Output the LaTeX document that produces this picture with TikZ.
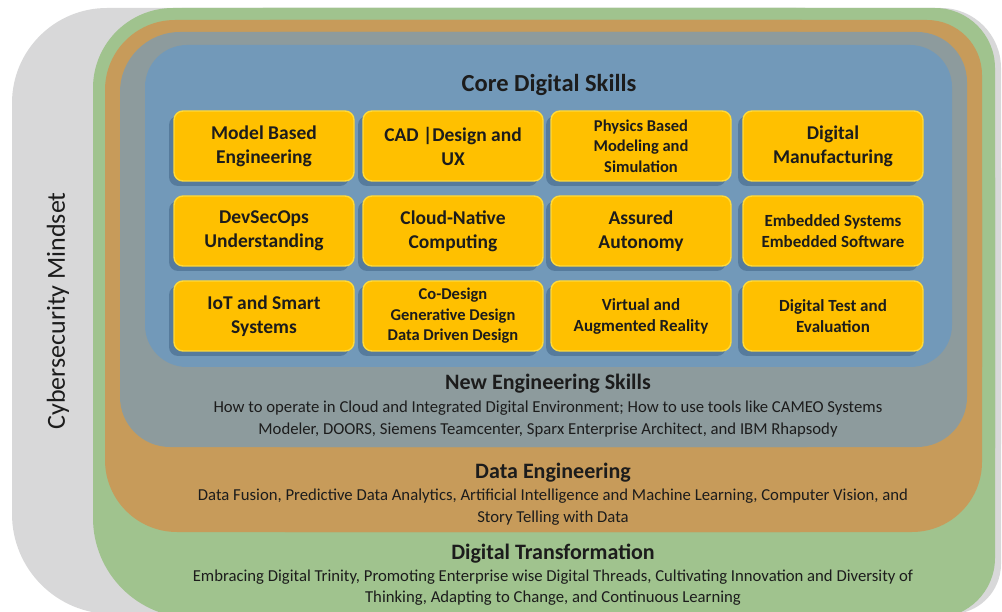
\documentclass[tikz,border=0pt]{standalone}
\usepackage{fontspec}
\setmainfont{Carlito}
\usetikzlibrary{shadows}

\definecolor{cybergray}{HTML}{D8D8D9}
\definecolor{dtgreen}{HTML}{A0C38E}
\definecolor{detan}{HTML}{C79B5A}
\definecolor{nesgray}{HTML}{8D9B9D}
\definecolor{coreblue}{HTML}{7299B9}
\definecolor{skillfill}{HTML}{FFC000}
\definecolor{skillrim}{HTML}{FFDA3A}
\definecolor{skillshade}{HTML}{3B5E80}
\definecolor{inktext}{HTML}{1C1C1C}

% one rounded band, every corner with its own radius:
% colour, left, top, right, bottom, radius TL, TR, BR, BL
\newcommand{\band}[9]{%
  \fill[#1, rounded corners=#6] (#2,#3) rectangle (#4-110,#5-110);
  \fill[#1, rounded corners=#7] (#2+110,#3) rectangle (#4,#5-110);
  \fill[#1, rounded corners=#8] (#2+110,#3+110) rectangle (#4,#5);
  \fill[#1, rounded corners=#9] (#2,#3+110) rectangle (#4-110,#5);
}

\begin{document}
\begin{tikzpicture}[x=1pt, y=-1pt,
    every node/.style={text=inktext},
    skill/.style={draw=skillrim, line width=1.4pt, fill=skillfill,
      rounded corners=9pt, minimum width=180pt, minimum height=70pt,
      inner sep=2pt, align=center,
      font=\bfseries\fontsize{19.5}{24}\selectfont,
      drop shadow={shadow xshift=-5pt, shadow yshift=-5pt,
        fill=skillshade, opacity=0.5}},
    skillsmall/.style={skill, font=\bfseries\fontsize{16.5}{20.5}\selectfont},
    heading/.style={font=\bfseries\fontsize{22}{26}\selectfont},
    blurb/.style={align=center, font=\fontsize{16.7}{21.5}\selectfont}]
  \clip (0,0) rectangle (1002,612);

  % nested layers, outermost first
  \band{cybergray}{12}{8}{1001}{614}{95pt}{60pt}{50pt}{100pt}
  \band{dtgreen}{93}{8}{995}{618}{80pt}{60pt}{60pt}{100pt}
  \band{detan}{105}{20}{982}{532}{70pt}{55pt}{70pt}{72pt}
  \band{nesgray}{120}{32}{967}{447}{60pt}{50pt}{50pt}{50pt}
  \fill[coreblue, rounded corners=42pt] (145,45) rectangle (952,367);

  \node[rotate=90, font=\fontsize{26}{30}\selectfont] (cyber) at (58,311) {Cybersecurity Mindset};

  % core digital skills
  \node[font=\bfseries\fontsize{24.5}{28}\selectfont] (core) at (549,85) {Core Digital Skills};

  \node[skill] (mbe) at (264,146) {Model Based\\Engineering};
  \node[skill] (cad) at (453,146) {CAD |Design and\\UX};
  \node[skillsmall] (phys) at (641,146) {Physics Based\\Modeling and\\Simulation};
  \node[skill] (manuf) at (833,146) {Digital\\Manufacturing};

  \node[skill] (devsec) at (264,231) {DevSecOps\\Understanding};
  \node[skill] (cloud) at (453,231) {Cloud-Native\\Computing};
  \node[skill] (auton) at (641,231) {Assured\\Autonomy};
  \node[skillsmall, font=\bfseries\fontsize{17}{21}\selectfont] (embed) at (833,231) {Embedded Systems\\Embedded Software};

  \node[skill] (iot) at (264,316) {IoT and Smart\\Systems};
  \node[skillsmall] (codes) at (453,316) {Co-Design\\Generative Design\\Data Driven Design};
  \node[skillsmall, font=\bfseries\fontsize{17}{21}\selectfont] (vr) at (641,316) {Virtual and\\Augmented Reality};
  \node[skillsmall, font=\bfseries\fontsize{17}{21}\selectfont] (dte) at (833,316) {Digital Test and\\Evaluation};

  % new engineering skills
  \node[heading] (nes) at (548,383.5) {New Engineering Skills};
  \node[blurb] (nesbody) at (548,419) {How to operate in Cloud and Integrated Digital Environment; How to use tools like CAMEO Systems\\Modeler, DOORS, Siemens Teamcenter, Sparx Enterprise Architect, and IBM Rhapsody};

  % data engineering
  \node[heading] (de) at (553,472.5) {Data Engineering};
  \node[blurb] (debody) at (553,507) {Data Fusion, Predictive Data Analytics, Artificial Intelligence and Machine Learning, Computer Vision, and\\Story Telling with Data};

  % digital transformation
  \node[heading] (dt) at (553,553.5) {Digital Transformation};
  \node[blurb] (dtbody) at (553,587.5) {Embracing Digital Trinity, Promoting Enterprise wise Digital Threads, Cultivating Innovation and Diversity of\\Thinking, Adapting to Change, and Continuous Learning};
\end{tikzpicture}
\end{document}
